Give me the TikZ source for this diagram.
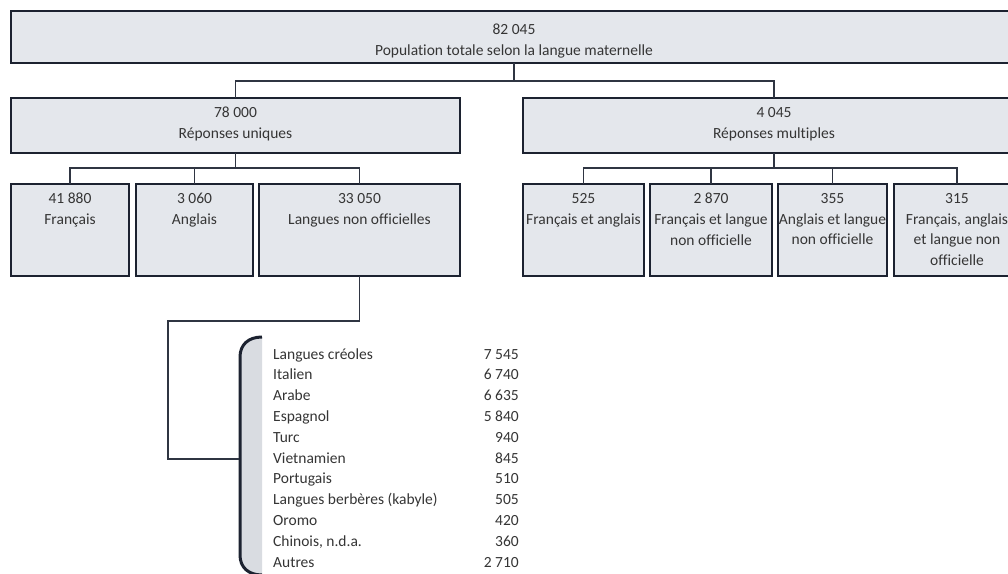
\documentclass[tikz,border=0pt]{standalone}
\usepackage{fontspec}
\setmainfont{Carlito}[Ligatures=NoCommon]
\definecolor{boxfill}{HTML}{E4E7EC}
\definecolor{brfill}{HTML}{D9DCE1}
\definecolor{boxline}{HTML}{1C2230}
\definecolor{conn}{HTML}{2F3542}
\definecolor{txt}{HTML}{353535}
\tikzset{
  box/.style={draw=boxline, fill=boxfill, line width=2.8pt, inner sep=0pt, outer sep=0pt, rectangle},
  lbl/.style={text=txt, font=\fontsize{15.5}{20.8}\selectfont, align=center, inner sep=0pt, anchor=north},
  conline/.style={draw=conn, line width=1.2pt},
  item/.style={text=txt, font=\fontsize{15.5}{20.8}\selectfont, inner sep=0pt},
  brline/.style={draw=boxline, line width=3pt},
}
\begin{document}
\begin{tikzpicture}[x=1pt, y=-1pt]
\clip (0,0) rectangle (1008,573);
\useasboundingbox (0,0) rectangle (1008,573);
\fill[white] (0,0) rectangle (1008,573);

% boxes
\node[box, minimum width=1006pt, minimum height=52pt] (top) at (514,37) {};
\node[box, minimum width=449pt, minimum height=55pt] (l2a) at (235.5,125.5) {};
\node[box, minimum width=502pt, minimum height=55pt] (l2b) at (774,125.5) {};
\node[box, minimum width=118pt, minimum height=92pt] (c1) at (70,230) {};
\node[box, minimum width=117pt, minimum height=92pt] (c2) at (194.5,230) {};
\node[box, minimum width=201pt, minimum height=92pt] (c3) at (359.5,230) {};
\node[box, minimum width=121pt, minimum height=92pt] (d1) at (583.5,230) {};
\node[box, minimum width=122pt, minimum height=92pt] (d2) at (711,230) {};
\node[box, minimum width=109pt, minimum height=92pt] (d3) at (832.5,230) {};
\node[box, minimum width=126pt, minimum height=92pt] (d4) at (957,230) {};

% texts
\node[lbl] (ttop) at (514,24) {82 045\\Population totale selon la langue maternelle};
\node[lbl] (tl2a) at (235.5,107) {78 000\\Réponses uniques};
\node[lbl] (tl2b) at (774,107) {4 045\\Réponses multiples};
\node[lbl] (tc1) at (70,193) {41 880\\Français};
\node[lbl] (tc2) at (194.5,193) {3 060\\Anglais};
\node[lbl] (tc3) at (359.5,193) {33 050\\Langues non officielles};
\node[lbl] (td1) at (583.5,193) {525\\Français et anglais};
\node[lbl] (td2) at (711,193) {2 870\\Français et langue\\non officielle};
\node[lbl] (td3) at (832.5,193) {355\\Anglais et langue\\non officielle};
\node[lbl] (td4) at (957,193) {315\\Français, anglais\\et langue non\\officielle};

% connectors
\coordinate (h0) at (514,81);
\coordinate (ha) at (235.5,168);
\coordinate (hb) at (774,168);
\draw[conline] (top.south) -- (h0);
\draw[conline] (h0) -| (l2a.north);
\draw[conline] (h0) -| (l2b.north);
\draw[conline] (l2a.south) -- (ha);
\draw[conline] (ha) -| (c1.north);
\draw[conline] (ha) -| (c2.north);
\draw[conline] (ha) -| (c3.north);
\draw[conline] (l2b.south) -- (hb);
\draw[conline] (hb) -| (d1.north);
\draw[conline] (hb) -| (d2.north);
\draw[conline] (hb) -| (d3.north);
\draw[conline] (hb) -| (d4.north);

% bracket and list
\fill[brfill] (262,337) .. controls (248,337) and (240,345) .. (240,357)
  -- (240,555) .. controls (240,567) and (248,575) .. (262,575) -- cycle;
\draw[brline] (262,337) .. controls (248,337) and (240,345) .. (240,357)
  -- (240,555) .. controls (240,567) and (248,575) .. (262,575);
\coordinate (k1) at (168,321);
\coordinate (k2) at (168,459);
\coordinate (brk) at (238.5,459);
\draw[conline] (c3.south) |- (k1) -- (k2) -- (brk);

\foreach \n/\v [count=\i] in {Langues créoles/7 545, Italien/6 740, Arabe/6 635, Espagnol/5 840, Turc/940, Vietnamien/845, Portugais/510, Langues berbères (kabyle)/505, Oromo/420, {Chinois, n.d.a.}/360, Autres/2 710}{
  \node[item, anchor=base west] (ln\i) at (273,{359+(\i-1)*20.8}) {\n};
  \node[item, anchor=base east] (lv\i) at (519,{359+(\i-1)*20.8}) {\v};
}
\end{tikzpicture}
\end{document}
